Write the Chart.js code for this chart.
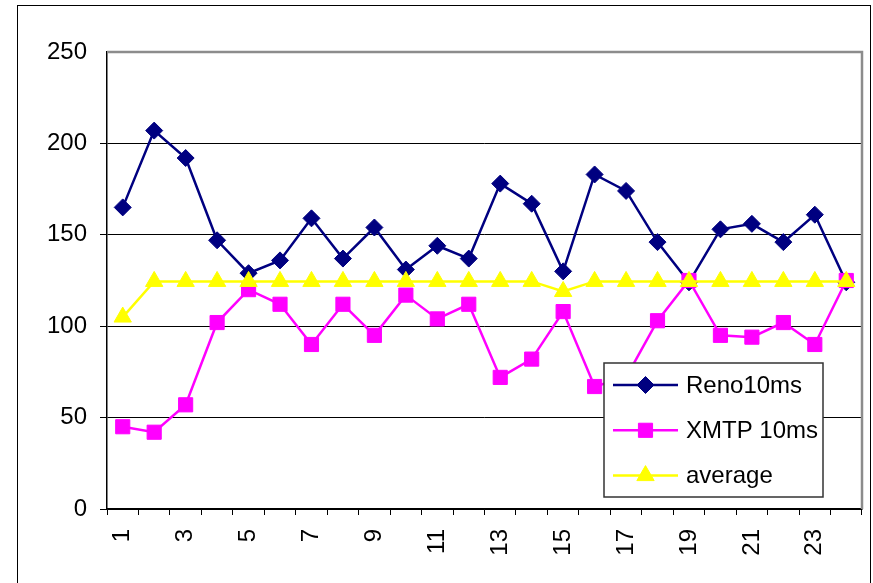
<!DOCTYPE html>
<html>
<head>
<meta charset="utf-8">
<script src="https://cdn.jsdelivr.net/npm/chart.js@4.4.0/dist/chart.umd.min.js"></script>
<style>
  html, body { margin: 0; padding: 0; background: #fff; }
  #wrap { position: relative; width: 873px; height: 583px; overflow: hidden; }
  #frame { position: absolute; left: 17px; top: 5px; width: 854px; height: 620px; border: 1px solid #000; box-sizing: border-box; }
  #chart { position: absolute; left: 0; top: 0; }
</style>
</head>
<body>
<div id="wrap">
  <div id="frame"></div>
  <canvas id="chart" width="873" height="583"></canvas>
</div>
<script>
// run numbers 1..24
const categories = ['1', '2', '3', '4', '5', '6', '7', '8', '9', '10', '11', '12',
                    '13', '14', '15', '16', '17', '18', '19', '20', '21', '22', '23', '24'];

// throughput per run
const reno10ms = [165, 207, 192, 147, 129, 136, 159, 137, 154, 131, 144, 137,
                  178, 167, 130, 183, 174, 146, 124, 153, 156, 146, 161, 124];
const xmtp10ms = [45, 42, 57, 102, 120, 112, 90, 112, 95, 117, 104, 112,
                  72, 82, 108, 67, 72, 103, 125, 95, 94, 102, 90, 125];
const average = [105, 124.5, 124.5, 124.5, 124.5, 124.5, 124.5, 124.5, 124.5, 124.5, 124.5, 124.5,
                 124.5, 124.5, 119, 124.5, 124.5, 124.5, 124.5, 124.5, 124.5, 124.5, 124.5, 124.5];

const seriesNames = ['Reno10ms', 'XMTP 10ms', 'average'];
const yMin = 0, yMax = 250, yStep = 50;

const FONT = "'Liberation Sans', Arial, sans-serif";

// gray frame on the top and right of the plot area (Excel style)
const plotFrame = {
    id: 'plotFrame',
    beforeDatasetsDraw(chart) {
        const { ctx, chartArea: a } = chart;
        ctx.save();
        ctx.strokeStyle = '#8c8c8c';
        ctx.lineWidth = 2.5;
        ctx.beginPath();
        ctx.moveTo(a.left, a.top);
        ctx.lineTo(a.right, a.top);
        ctx.lineTo(a.right, a.bottom);
        ctx.stroke();
        ctx.restore();
    }
};

// boxed legend sitting inside the plot, lower right
const boxLegend = {
    id: 'boxLegend',
    afterDraw(chart) {
        const { ctx } = chart;
        const bx = 604, by = 363, bw = 219, bh = 134;
        ctx.save();
        ctx.fillStyle = '#fff';
        ctx.fillRect(bx, by, bw, bh);
        ctx.strokeStyle = '#333';
        ctx.lineWidth = 1.5;
        ctx.strokeRect(bx, by, bw, bh);

        chart.data.datasets.forEach((ds, i) => {
            const y = by + 22 + i * 45.3;
            ctx.strokeStyle = ds.borderColor;
            ctx.lineWidth = ds.borderWidth;
            ctx.beginPath();
            ctx.moveTo(bx + 9, y);
            ctx.lineTo(bx + 74, y);
            ctx.stroke();

            ctx.fillStyle = ds.pointBackgroundColor;
            ctx.strokeStyle = ds.pointBorderColor;
            ctx.lineWidth = 1;
            Chart.helpers.drawPoint(ctx, {
                pointStyle: ds.pointStyle,
                radius: ds.pointRadius,
                rotation: 0,
                borderWidth: 1
            }, bx + 41.5, y);

            ctx.fillStyle = '#000';
            ctx.font = '24px ' + FONT;
            ctx.textBaseline = 'middle';
            ctx.textAlign = 'left';
            ctx.fillText(ds.label, bx + 82, y + 1);
        });
        ctx.restore();
    }
};

new Chart(document.getElementById('chart'), {
    type: 'line',
    data: {
        labels: categories,
        datasets: [
            {
                label: seriesNames[0],
                data: reno10ms,
                borderColor: '#000080',
                backgroundColor: '#000080',
                pointBackgroundColor: '#000080',
                pointBorderColor: '#000080',
                borderWidth: 2.5,
                pointStyle: 'rectRot',
                pointRadius: 8.5,
                pointBorderWidth: 1,
                tension: 0,
                order: 2
            },
            {
                label: seriesNames[1],
                data: xmtp10ms,
                borderColor: '#ff00ff',
                backgroundColor: '#ff00ff',
                pointBackgroundColor: '#ff00ff',
                pointBorderColor: '#ff00ff',
                borderWidth: 2.5,
                pointStyle: 'rect',
                pointRadius: 10,
                pointBorderWidth: 1,
                tension: 0,
                order: 1
            },
            {
                label: seriesNames[2],
                data: average,
                borderColor: '#ffff00',
                backgroundColor: '#ffff00',
                pointBackgroundColor: '#ffff00',
                pointBorderColor: '#ffff00',
                borderWidth: 2.5,
                pointStyle: 'triangle',
                pointRadius: 10,
                pointBorderWidth: 1,
                tension: 0,
                order: 0
            }
        ]
    },
    options: {
        responsive: false,
        animation: false,
        devicePixelRatio: 1,
        layout: { padding: { left: 0, top: 52, right: 11, bottom: 0 } },
        plugins: {
            legend: { display: false },
            tooltip: { enabled: false }
        },
        scales: {
            x: {
                offset: true,
                afterFit: scale => {
                    scale.height = 74;
                    // rotated labels don't overhang the plot, so no side padding
                    scale.paddingLeft = 0;
                    scale.paddingRight = 0;
                },
                grid: {
                    offset: true,
                    drawOnChartArea: false,
                    drawTicks: true,
                    tickLength: 6,
                    color: '#000',
                    lineWidth: 1
                },
                border: { display: true, color: '#000', width: 1.5 },
                ticks: {
                    autoSkip: false,
                    minRotation: 90,
                    maxRotation: 90,
                    padding: 14,
                    color: '#000',
                    font: { family: FONT, size: 24 },
                    callback: (val, idx) => (idx % 2 === 0 ? categories[idx] : '')
                }
            },
            y: {
                min: yMin,
                max: yMax,
                afterFit: scale => { scale.width = 107; },
                grid: {
                    color: ctx => (ctx.tick && ctx.tick.value === yMax ? 'rgba(0,0,0,0)' : '#000'),
                    lineWidth: 1,
                    drawTicks: true,
                    tickLength: 7
                },
                border: { display: true, color: '#000', width: 1.5 },
                ticks: {
                    stepSize: yStep,
                    padding: 13,
                    color: '#000',
                    font: { family: FONT, size: 24 }
                }
            }
        }
    },
    plugins: [plotFrame, boxLegend]
});
</script>
</body>
</html>
